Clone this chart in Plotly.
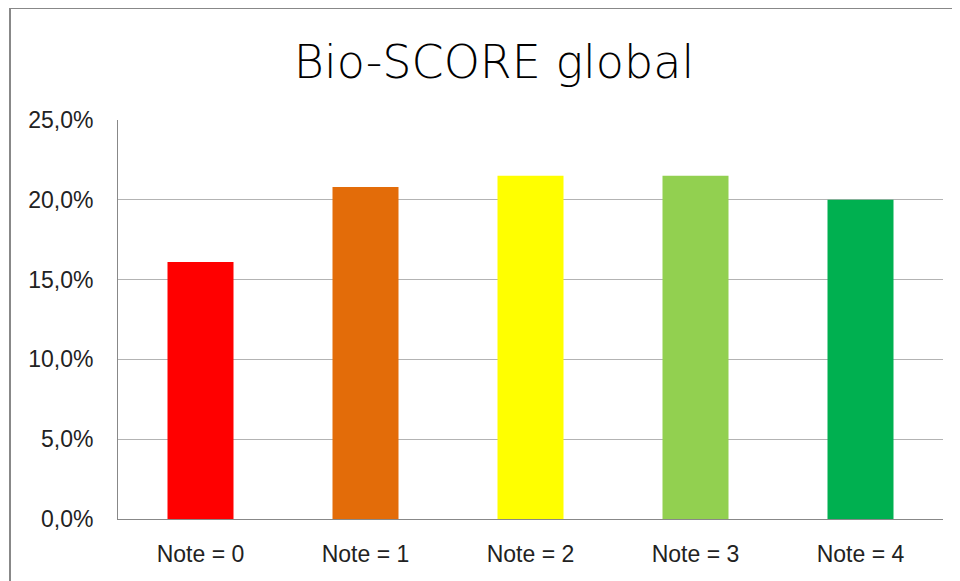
import plotly.graph_objects as go

categories = ["Note = 0", "Note = 1", "Note = 2", "Note = 3", "Note = 4"]
values = [0.161, 0.208, 0.215, 0.215, 0.200]
bar_colors = ["#FF0000", "#E36C09", "#FFFF00", "#92D050", "#00B050"]
y_ticks = [0, 0.05, 0.10, 0.15, 0.20, 0.25]

OFF = 8  # page body margin offset
W, H = 960 - OFF, 581 - OFF
# target page coords of plot area: x 118..943, y 120..519
L = 118 - OFF
T = 120 - OFF
pw = 943 - 118
ph = 519 - 120
R = W - L - pw
B = H - T - ph

def px_x(x):  # page x -> paper
    return (x - OFF - L) / pw

def px_y(y):  # page y -> paper
    return (T + ph - (y - OFF)) / ph

fig = go.Figure(go.Bar(
    x=categories, y=values, marker_color=bar_colors,
    marker_line_width=0, width=0.4,
))

fig.update_layout(
    width=W, height=H,
    margin=dict(l=L, r=R, t=T, b=B),
    paper_bgcolor="white", plot_bgcolor="white",
    separators=", ",
    showlegend=False,
    font=dict(family="Liberation Sans", size=23, color="#222222"),
    title=dict(
        text="Bio-SCORE global",
        font=dict(family="DejaVu Sans", size=46, color="#000000", weight=200),
        x=px_x(494), xref="paper", xanchor="center",
        y=1 - 38 / H, yref="container", yanchor="top",
    ),
    bargap=0.6,
)

fig.update_yaxes(
    range=[0, 0.25], tickvals=y_ticks, tickformat=".1%",
    showgrid=True, gridcolor="#B3B3B3", gridwidth=1,
    showline=True, linecolor="#888888", linewidth=1,
    ticks="outside", ticklen=19, tickcolor="rgba(0,0,0,0)",
    zeroline=False,
)
fig.update_xaxes(
    showline=True, linecolor="#888888", linewidth=1,
    ticks="outside", ticklen=14, tickcolor="rgba(0,0,0,0)",
)

# outer chart frame (top and left edges visible)
frame = dict(color="#888888", width=2)
fig.add_shape(type="line", xref="paper", yref="paper",
              x0=px_x(10), x1=px_x(1000), y0=px_y(8), y1=px_y(8),
              line=frame, layer="above")
fig.add_shape(type="line", xref="paper", yref="paper",
              x0=px_x(10), x1=px_x(10), y0=px_y(8), y1=px_y(620),
              line=frame, layer="above")

fig.write_html("out.html")
